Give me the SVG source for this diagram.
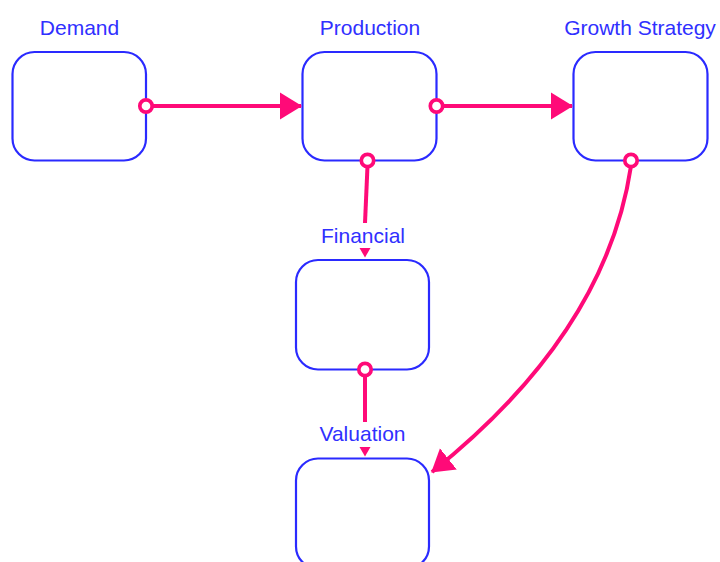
<svg xmlns="http://www.w3.org/2000/svg" width="720" height="562" viewBox="0 0 720 562">
<style>
.box{fill:#fff;stroke:#2a2aff;stroke-width:2.2}
.lbl{font-family:"Liberation Sans",Arial,sans-serif;font-size:21px;fill:#3030ff;text-anchor:middle}
.edge{fill:none;stroke:#ff0a78;stroke-width:4}
.dot{fill:#fff;stroke:#ff0a78;stroke-width:3.7}
.tri{fill:#ff0a78}
</style>
<defs>
<marker id="arrow" markerUnits="userSpaceOnUse" markerWidth="24" markerHeight="28" refX="21" refY="14" orient="auto">
<path d="M0,0.5 L22,14 L0,27.5 z" fill="#ff0a78"/>
</marker>
</defs>
<rect width="720" height="562" fill="#fff"/>
<g id="demand">
<rect class="box" x="12.5" y="52" width="133.5" height="108.5" rx="22"/>
<text class="lbl" x="79.5" y="35">Demand</text>
</g>
<g id="production">
<rect class="box" x="302.5" y="52" width="134" height="108.5" rx="22"/>
<text class="lbl" x="370" y="35">Production</text>
</g>
<g id="growth">
<rect class="box" x="573.5" y="52" width="134" height="108.5" rx="22"/>
<text class="lbl" x="640" y="35">Growth Strategy</text>
</g>
<g id="financial">
<rect class="box" x="296" y="260" width="133" height="109.5" rx="22"/>
<text class="lbl" x="363" y="243">Financial</text>
</g>
<g id="valuation">
<rect class="box" x="296" y="458.5" width="133" height="110" rx="22"/>
<text class="lbl" x="362.5" y="441">Valuation</text>
</g>
<g id="connectors">
<path class="edge" d="M152,106 L301,106" marker-end="url(#arrow)"/>
<path class="edge" d="M442,106 L572,106" marker-end="url(#arrow)"/>
<path class="edge" d="M367.5,166 L365,223"/>
<polygon class="tri" points="359.5,248 370.5,248 365,257.5"/>
<path class="edge" d="M365,375 L365,422"/>
<polygon class="tri" points="359.5,447 370.5,447 365,456.5"/>
<path class="edge" d="M631,166 Q606,333 432,472" marker-end="url(#arrow)"/>
<circle class="dot" cx="146" cy="106" r="6.2"/>
<circle class="dot" cx="436.5" cy="106" r="6.2"/>
<circle class="dot" cx="367.5" cy="160.5" r="6.2"/>
<circle class="dot" cx="365" cy="369.5" r="6.2"/>
<circle class="dot" cx="631" cy="160.5" r="6.2"/>
</g>
</svg>
